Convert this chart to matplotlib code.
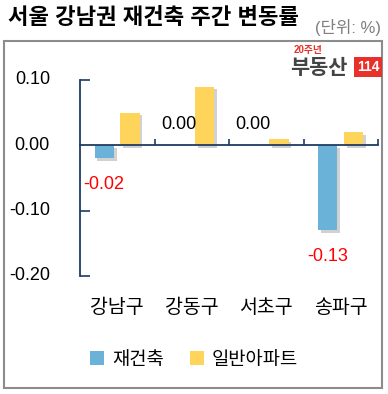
import numpy as np
import matplotlib.pyplot as plt
import matplotlib.patheffects as pe
import matplotlib.transforms as mtransforms
from matplotlib.patches import Rectangle, Patch

plt.rcParams['font.family'] = ['Liberation Sans', 'Noto Sans CJK KR', 'DejaVu Sans']

# data
districts = ['강남구', '강동구', '서초구', '송파구']
series_names = ['재건축', '일반아파트']
rebuild = [-0.02, 0.00, 0.00, -0.13]
general = [0.05, 0.09, 0.01, 0.02]
yticks = [0.10, 0.00, -0.10, -0.20]

blue = '#6AB2D8'
yellow = '#FFD45A'
navy = '#1F3B63'

fig = plt.figure(figsize=(3.88, 3.94), dpi=100)
ax = fig.add_axes([80 / 388, (394 - 276) / 394, 298 / 388, 196 / 394])

x = np.arange(len(districts))
w = 0.26
shadow = [pe.SimplePatchShadow(offset=(2, -2), shadow_rgbFace='#9A9A9A', alpha=0.45), pe.Normal()]
b1 = ax.bar(x - 0.175, rebuild, w, color=blue, zorder=3)
b2 = ax.bar(x + 0.17, general, w, color=yellow, zorder=3)
for b in list(b1) + list(b2):
    b.set_path_effects(shadow)

# value labels for 재건축
for xi, v in zip(x, rebuild):
    if v < 0:
        ax.text(xi - 0.175, v - 0.04, f'{v:.2f}', color='#FF0000', ha='center', va='center', fontsize=13)
    else:
        ax.text(xi - 0.175, v + 0.032, f'{v:.2f}', color='black', ha='center', va='center', fontsize=13)

ax.set_xlim(-0.5, len(districts) - 0.5)
ax.set_ylim(-0.2, 0.1)

for s in ['top', 'right']:
    ax.spines[s].set_visible(False)
ax.spines['left'].set_color(navy)
ax.spines['left'].set_linewidth(1.3)
ax.spines['bottom'].set_position(('data', 0))
ax.spines['bottom'].set_color(navy)
ax.spines['bottom'].set_linewidth(1.3)
ax.spines['bottom'].set_zorder(4)

ax.set_xticks(list(x + 0.5))
ax.tick_params(axis='x', direction='in', length=4, color=navy, width=1.2, labelbottom=False)
ax.set_yticks([0.10, -0.10, -0.20])
ax.tick_params(axis='y', direction='in', length=7, color=navy, width=1.2, labelleft=False)

# y tick labels (drawn away from the axis as in the reference)
ytrans = mtransforms.blended_transform_factory(fig.transFigure, ax.transData)
for t in yticks:
    ax.text(50 / 388, t, f'{t:.2f}', transform=ytrans, ha='right', va='center', fontsize=13)

# category labels
xtrans = mtransforms.blended_transform_factory(ax.transData, fig.transFigure)
for xi, name in zip(x, districts):
    ax.text(xi, (394 - 308) / 394, name, transform=xtrans, ha='center', va='center', fontsize=14)

# legend
handles = [Patch(facecolor=blue), Patch(facecolor=yellow)]
fig.legend(handles, series_names, loc='center', bbox_to_anchor=(0.5, 34 / 394), ncol=2,
           frameon=False, fontsize=13.5, handlelength=0.75, handleheight=0.75,
           handletextpad=0.4, columnspacing=1.4)

# frame
fig.patches.append(Rectangle((4 / 388, 6 / 394), 378 / 388, 347 / 394, transform=fig.transFigure,
                             fill=False, edgecolor='#8C8C8C', linewidth=1.5))

# title and unit
fig.text(8 / 388, (394 - 18) / 394, '서울 강남권 재건축 주간 변동률', fontsize=16, fontweight='bold',
         ha='left', va='center')
fig.text(381 / 388, (394 - 28) / 394, '(단위: %)', fontsize=12, color='#7F7F7F', ha='right', va='center')

# logo
fig.text(294 / 388, (394 - 50) / 394, '20주년', fontsize=7, color='#E8312A', fontweight='bold',
         ha='left', va='center')
fig.text(290 / 388, (394 - 68) / 394, '부동산', fontsize=15, color='#444444', fontweight='bold',
         ha='left', va='center')
fig.text(368 / 388, (394 - 67) / 394, '114', fontsize=10, color='white', fontweight='bold',
         ha='center', va='center',
         bbox=dict(boxstyle='square,pad=0.2', facecolor='#E8312A', edgecolor='none'))

fig.savefig('out.png', dpi=100)
